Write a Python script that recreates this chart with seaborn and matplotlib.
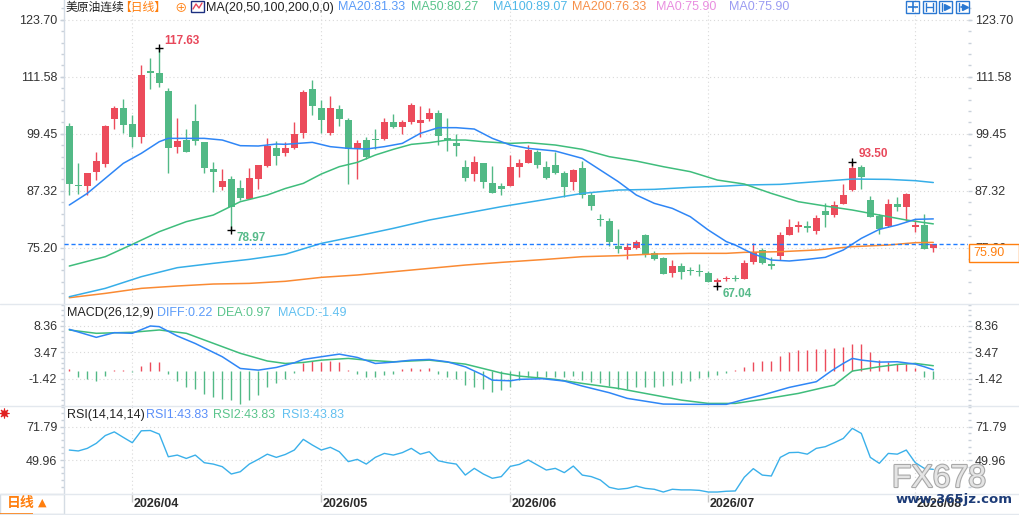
import numpy as np
import matplotlib
matplotlib.use("Agg")
import matplotlib.pyplot as plt
import matplotlib.patheffects as pe
from matplotlib.patches import Rectangle
from matplotlib.lines import Line2D
from matplotlib.ticker import FixedLocator
import seaborn as sns

# ---- daily candles, 97 sessions ----
opens = [101.09, 88.50, 88.40, 91.38, 93.08, 102.51, 104.85, 101.52, 98.82, 112.72,
         112.44, 108.54, 96.70, 98.11, 102.16, 97.69, 91.87, 88.04, 89.81, 87.90,
         85.56, 89.89, 92.58, 96.41, 95.42, 96.48, 99.67, 108.97, 104.92, 99.67,
         104.71, 102.37, 96.48, 98.11, 98.33, 98.33, 101.87, 100.95, 102.01, 101.66,
         102.51, 103.86, 98.54, 97.47, 92.37, 90.95, 93.15, 88.96, 88.33, 88.40,
         92.44, 93.29, 95.56, 92.37, 92.79, 91.02, 89.25, 92.15, 86.41, 81.30,
         80.88, 75.56, 74.71, 75.20, 77.83, 74.07, 73.00, 69.81, 71.23, 70.45,
         70.20, 69.74, 67.97, 68.54, 68.68, 68.61, 72.22, 74.71, 71.66, 73.50,
         77.97, 79.67, 79.74, 78.82, 83.01, 82.23, 84.56, 87.47, 92.30, 85.35,
         81.87, 79.81, 84.49, 83.93, 79.67, 80.03, 75.10]
highs = [101.66, 93.29, 91.16, 95.56, 101.30, 105.35, 106.84, 103.43, 114.14, 115.56,
         117.63, 109.11, 102.87, 100.45, 105.84, 97.69, 93.36, 91.87, 90.45, 89.60,
         92.08, 92.79, 98.61, 97.90, 97.62, 101.94, 108.75, 110.88, 106.62, 107.48,
         105.56, 102.79, 98.11, 98.68, 100.45, 102.72, 103.65, 102.37, 105.99, 105.35,
         104.85, 104.50, 102.79, 99.32, 93.86, 94.71, 93.15, 92.58, 89.03, 94.92,
         94.00, 97.05, 95.99, 93.64, 95.63, 91.45, 91.94, 93.57, 87.12, 82.37,
         81.45, 79.17, 76.12, 76.83, 78.04, 74.42, 73.15, 72.58, 71.94, 71.02,
         71.73, 70.17, 68.82, 69.17, 69.32, 72.58, 76.27, 75.06, 73.29, 78.54,
         81.23, 80.81, 80.81, 82.15, 84.64, 85.20, 88.75, 93.50, 92.79, 86.20,
         82.37, 85.49, 85.91, 86.77, 81.09, 82.37, 75.95]
lows = [86.41, 86.62, 86.34, 89.60, 92.30, 100.38, 99.67, 96.70, 97.40, 108.89,
        109.32, 91.16, 95.42, 95.63, 97.05, 91.16, 87.12, 87.47, 78.97, 85.35,
        85.49, 87.76, 92.44, 92.79, 94.71, 96.20, 98.61, 103.43, 99.53, 99.25,
        101.16, 88.82, 89.89, 94.00, 96.20, 98.11, 100.74, 99.39, 101.52, 98.82,
        102.23, 97.05, 95.84, 94.71, 89.46, 89.39, 87.97, 86.91, 86.48, 88.40,
        90.31, 93.29, 92.08, 89.81, 90.81, 85.91, 87.47, 85.84, 83.22, 79.81,
        75.56, 74.14, 72.86, 74.85, 73.22, 72.58, 69.60, 68.96, 68.54, 69.39,
        69.25, 67.97, 67.04, 68.18, 68.04, 68.61, 71.73, 71.73, 70.59, 72.58,
        77.97, 78.47, 78.61, 78.11, 79.67, 81.66, 84.56, 87.26, 87.76, 81.80,
        78.11, 79.67, 83.01, 80.88, 78.61, 74.99, 74.35]
closes = [88.75, 88.40, 91.02, 93.64, 101.09, 104.85, 101.37, 98.82, 111.94, 112.44,
          110.31, 96.48, 97.90, 95.63, 97.97, 92.08, 91.38, 89.39, 83.93, 85.84,
          89.96, 92.79, 96.84, 94.78, 96.41, 99.39, 108.33, 105.42, 102.44, 104.92,
          102.65, 96.13, 97.47, 94.57, 98.18, 101.94, 100.95, 101.94, 105.56, 102.37,
          103.86, 99.03, 98.04, 96.91, 90.10, 93.43, 89.25, 86.91, 87.76, 92.44,
          93.29, 95.99, 92.79, 90.10, 91.16, 88.18, 91.73, 86.41, 84.14, 81.16,
          76.48, 74.99, 75.34, 76.41, 73.86, 72.79, 69.60, 71.23, 70.09, 70.30,
          70.05, 67.97, 68.39, 68.75, 68.54, 71.87, 74.35, 71.87, 71.37, 77.83,
          79.60, 79.96, 79.46, 81.45, 82.23, 84.28, 86.41, 92.23, 90.31, 81.80,
          79.10, 84.49, 83.93, 86.62, 80.03, 74.99, 75.90]

month_labels = ["2026/04", "2026/05", "2026/06", "2026/07", "2026/08"]
month_idx = [8, 29, 50, 72, 95]

# moving averages (session index, value)
ma20_x = [1, 3, 5, 7, 9, 11, 12, 14, 16, 18, 20, 22, 24, 25, 28, 30, 32, 34, 36, 38,
          40, 42, 44, 46, 48, 50, 52, 55, 58, 60, 62, 64, 66, 68, 70, 72, 74, 75, 77,
          79, 81, 83, 85, 87, 89, 91, 93, 95, 97]
ma20_y = [84.28, 86.76, 89.96, 93.15, 95.28, 97.76, 98.47, 98.47, 98.47, 98.11, 96.91,
          96.84, 97.26, 97.20, 97.62, 96.70, 96.34, 96.20, 96.70, 97.40, 99.53, 100.74,
          100.74, 100.45, 98.47, 97.05, 96.34, 95.77, 94.21, 91.73, 89.25, 86.41, 84.64,
          83.57, 81.80, 78.96, 76.50, 75.77, 73.86, 72.58, 72.37, 72.72, 73.15, 74.71,
          77.19, 79.10, 80.03, 81.23, 81.33]
ma50_x = [1, 5, 8, 11, 14, 17, 20, 23, 25, 27, 29, 31, 33, 35, 37, 39, 41, 43, 45, 47,
          50, 52, 55, 58, 61, 64, 67, 70, 73, 76, 79, 82, 85, 88, 91, 94, 97]
ma50_y = [71.30, 73.29, 75.91, 78.61, 80.74, 82.15, 84.99, 86.41, 87.80, 88.89, 90.88,
          92.44, 93.36, 94.92, 96.13, 97.19, 97.55, 98.11, 98.11, 97.76, 97.40, 97.55,
          97.05, 96.13, 94.57, 93.64, 92.44, 91.38, 89.60, 88.75, 86.76, 84.99, 84.07,
          83.22, 82.15, 81.09, 80.27]
ma100_x = [1, 5, 9, 13, 17, 21, 25, 29, 33, 37, 41, 45, 49, 54, 58, 62, 66, 70, 74, 76,
           80, 84, 88, 92, 95, 97]
ma100_y = [64.77, 66.55, 69.03, 70.95, 71.87, 72.72, 73.80, 76.12, 77.69, 79.32, 81.09,
           82.51, 83.93, 85.49, 86.76, 87.47, 87.62, 88.04, 88.33, 88.54, 88.68, 89.25,
           89.81, 89.74, 89.46, 89.07]
ma200_x = [1, 5, 9, 13, 17, 21, 25, 29, 33, 37, 41, 45, 49, 54, 58, 62, 66, 70, 74, 76,
           80, 84, 88, 92, 95, 97]
ma200_y = [64.56, 65.48, 66.55, 67.05, 67.47, 67.61, 68.05, 68.89, 69.39, 70.09, 70.80,
           71.51, 72.08, 72.72, 73.29, 73.50, 73.86, 74.00, 74.00, 74.21, 74.35, 74.71,
           75.42, 75.77, 76.27, 76.33]

# MACD(26,12,9)
macd_hist = [0.37, -1.05, -1.55, -1.80, -0.93, 0.19, 0.19, -0.12, 0.93, 1.67,
             1.67, -0.50, -1.80, -3.04, -3.41, -4.34, -4.77, -5.27, -5.39, -6.08,
             -5.39, -4.46, -3.04, -2.17, -1.43, -0.43, 1.43, 1.80, 1.67, 1.80,
             1.67, 0.19, -0.56, -1.18, -1.18, -0.74, -0.56, 0.31, 0.50, 0.31,
             0.50, -0.56, -1.18, -1.43, -2.60, -3.04, -3.41, -3.91, -3.60, -2.90,
             -1.67, -1.05, -1.05, -1.05, -1.18, -1.18, -0.93, -1.67, -1.98, -2.29,
             -2.79, -3.41, -3.41, -3.04, -3.04, -3.04, -2.79, -2.60, -2.17, -1.80,
             -1.36, -1.05, -0.74, -0.43, 0.10, 0.81, 1.67, 1.86, 1.86, 2.79,
             3.60, 3.91, 3.91, 4.09, 4.15, 4.34, 4.53, 5.08, 5.08, 3.60,
             2.05, 1.74, 1.30, 1.30, 0.50, -1.05, -1.49]
diff_x = [1, 4, 6, 8, 10, 11, 13, 15, 18, 20, 22, 24, 26, 27, 29, 31, 33, 35, 37, 39,
          41, 43, 45, 47, 48, 50, 51, 53.6, 56, 58, 61, 63, 67, 71, 74, 76, 78, 81, 84,
          85.7, 87, 88, 89, 91, 93, 95, 96, 97]
diff_y = [7.74, 6.25, 7.12, 7.00, 8.36, 8.24, 6.50, 5.10, 2.64, 0.46, 0.15, 0.65, 1.52,
          2.14, 2.64, 3.13, 2.51, 1.39, 1.64, 2.01, 2.14, 1.70, 0.77, -0.78, -1.71,
          -1.83, -1.57, -1.45, -1.88, -2.81, -4.05, -5.10, -6.16, -6.22, -6.22, -5.29,
          -4.49, -3.06, -2.00, 0.04, 1.40, 2.33, 2.02, 1.64, 1.71, 1.27, 0.78, 0.22]
dea_x = [1, 4, 8, 11, 14, 17, 20, 23, 25, 27, 29, 32, 34, 37, 41, 42, 45, 48, 49, 51,
         55, 58, 62, 66, 69, 72, 75, 78, 82, 86, 88, 91, 93, 95, 97]
dea_y = [7.62, 7.00, 7.19, 7.62, 7.00, 5.14, 3.28, 1.85, 1.39, 1.58, 2.01, 2.33, 2.01,
         1.70, 2.01, 1.83, 1.27, 0.03, -0.40, -0.96, -1.57, -2.32, -3.25, -4.49, -5.42,
         -6.04, -6.04, -5.29, -4.18, -2.63, -0.02, 0.78, 1.21, 1.40, 0.97]

# RSI(14,14,14) - the three lines coincide
rsi = [56.5, 55.9, 57.6, 60.9, 66.0, 68.4, 64.8, 61.3, 69.1, 69.3,
       66.9, 52.1, 53.2, 51.0, 53.2, 48.2, 47.3, 45.6, 40.8, 42.3,
       47.3, 50.4, 53.8, 51.7, 53.6, 56.5, 63.5, 59.8, 56.5, 58.3,
       55.4, 48.9, 50.4, 47.3, 51.7, 54.3, 53.2, 54.8, 57.6, 53.8,
       55.4, 49.5, 48.2, 47.3, 40.1, 44.5, 40.8, 38.0, 39.1, 45.8,
       47.1, 50.0, 46.7, 43.4, 44.5, 41.7, 46.0, 40.1, 39.1, 36.9,
       32.1, 30.8, 31.4, 32.9, 31.4, 30.8, 29.0, 30.8, 30.4, 30.4,
       30.1, 29.0, 29.0, 29.5, 29.7, 38.7, 44.3, 40.1, 39.5, 51.7,
       54.8, 55.0, 53.8, 57.6, 58.7, 61.3, 64.1, 70.7, 67.4, 51.7,
       47.8, 54.3, 53.8, 56.5, 48.2, 44.5, 43.83]

main_ticks = [75.20, 87.32, 99.45, 111.58, 123.70]
macd_ticks = [-1.42, 3.47, 8.36]
rsi_ticks = [49.96, 71.79]

RED = "#ec4b5b"
GREEN = "#52b986"
C_MA20 = "#2f86f6"
C_MA50 = "#3fbd7c"
C_MA100 = "#36aee8"
C_MA200 = "#fa8a33"
C_RSI = "#3ab0ea"
ORANGE = "#ff7f0e"
GRID_C = "#d9d9d9"
AXIS_C = "#d3dbe4"
TEXT_C = "#333333"
CJK = ["Liberation Sans", "Noto Sans CJK SC", "DejaVu Sans"]

sns.set_theme(style="white")
plt.rcParams["font.family"] = CJK
plt.rcParams["axes.unicode_minus"] = False

W, H = 1019, 515
fig = plt.figure(figsize=(W / 100, H / 100), dpi=100)
fig.patch.set_facecolor("white")

X0, X1 = 64.3, 968.0
FIRST_X, STEP = 69.3, 9.0
xlim = (1 + (X0 - FIRST_X) / STEP, 1 + (X1 - FIRST_X) / STEP)
idx = np.arange(1, len(closes) + 1)


def fx(px):
    return px / W


def fy(py):
    return 1 - py / H


def panel(y0, y1):
    a = fig.add_axes([fx(X0), fy(y1), (X1 - X0) / W, (y1 - y0) / H])
    a.set_facecolor("none")
    for s in ["top", "right", "bottom"]:
        a.spines[s].set_visible(False)
    a.spines["left"].set_color(AXIS_C)
    a.spines["left"].set_linewidth(1)
    a.set_xticks(month_idx)
    a.tick_params(axis="x", length=0, labelbottom=False)
    a.grid(True, which="major", ls=(0, (1, 2.5)), color=GRID_C, lw=0.8)
    return a


def style_y(a, ticks, lims):
    a.set_ylim(*lims)
    a.set_yticks(ticks)
    a.set_yticklabels([f"{t:.2f}" for t in ticks])
    step = (ticks[1] - ticks[0]) / 5
    a.yaxis.set_minor_locator(FixedLocator(np.arange(ticks[0] - 30 * step, ticks[-1] + 30 * step, step)))
    a.tick_params(axis="y", which="both", left=True, right=True, labelleft=True,
                  labelright=True, direction="out", color="#c9d1da")
    a.tick_params(axis="y", which="major", length=3, width=1, pad=2, labelsize=9, labelcolor=TEXT_C)
    a.tick_params(axis="y", which="minor", length=2, width=1)
    a.set_xlim(*xlim)
    a.set_xlabel("")
    a.set_ylabel("")


# ---------- main price panel ----------
ax = panel(0, 304)
o = np.array(opens)
c = np.array(closes)
hi = np.array(highs)
lo = np.array(lows)
cols = np.where(c >= o, RED, GREEN)
ax.vlines(idx, lo, hi, colors=cols, lw=1, zorder=3)
ax.bar(idx, np.maximum(np.abs(c - o), 0.22), bottom=np.minimum(o, c), width=0.78,
       color=cols, lw=0, zorder=4)

for xs, ys, col in [(ma200_x, ma200_y, C_MA200), (ma100_x, ma100_y, C_MA100),
                    (ma50_x, ma50_y, C_MA50), (ma20_x, ma20_y, C_MA20)]:
    sns.lineplot(x=np.array(xs), y=np.array(ys), ax=ax, color=col, lw=1.1, zorder=5)

ax.axhline(c[-1], color="#1f7cff", lw=1, ls=(0, (3, 2)), zorder=6)
style_y(ax, main_ticks, (63.22, 127.91))

# extreme points
i_max = int(np.argmax(hi))
i_min = int(np.argmin(lo))
i_low1 = int(np.argmin(lo[:40]))
i_high2 = 60 + int(np.argmax(hi[60:]))
for i, v, col, off in [(i_max, hi[i_max], "#e8485b", (5, 7)),
                       (i_low1, lo[i_low1], "#57ba8a", (5, -8)),
                       (i_min, lo[i_min], "#57ba8a", (5, -8)),
                       (i_high2, hi[i_high2], "#e8485b", (6, 8))]:
    ax.plot(idx[i], v, marker="+", color="black", ms=6, mew=1, zorder=7)
    ax.annotate(f"{v:.2f}", xy=(idx[i], v), xytext=off, textcoords="offset pixels",
                ha="left", va="center", fontsize=8.5, fontweight="bold", color=col, zorder=7)

# last price tag on the right
y_disp = ax.transData.transform((xlim[0], c[-1]))[1]
fig.add_artist(Rectangle((fx(969), (y_disp - 18) / H), 49.5 / W, 18 / H, transform=fig.transFigure,
                         fc="white", ec=ORANGE, lw=1, zorder=10))
fig.text(fx(973), (y_disp - 9) / H, f"{c[-1]:.2f}", color=ORANGE, fontsize=9,
         ha="left", va="center", zorder=11)

# ---------- MACD panel ----------
am = panel(304, 406)
hcols = np.where(np.array(macd_hist) >= 0, RED, GREEN)
am.vlines(idx, 0, macd_hist, colors=hcols, lw=1, zorder=3)
sns.lineplot(x=np.array(dea_x), y=np.array(dea_y), ax=am, color=C_MA50, lw=1.1, zorder=4)
sns.lineplot(x=np.array(diff_x), y=np.array(diff_y), ax=am, color=C_MA20, lw=1.1, zorder=4)
style_y(am, macd_ticks, (-6.52, 12.45))

# ---------- RSI panel ----------
ar = panel(406, 493)
sns.lineplot(x=idx, y=np.array(rsi), ax=ar, color=C_RSI, lw=1, zorder=4)
style_y(ar, rsi_ticks, (28.36, 85.35))

# ---------- date bar ----------
ad = fig.add_axes([fx(X0), fy(513), (X1 - X0) / W, 20 / H])
ad.set_xlim(*xlim)
ad.set_ylim(0, 1)
ad.axis("off")
ad.vlines(month_idx, 0.55, 1.0, color="#c8c8c8", lw=1)
for i, lab in zip(month_idx, month_labels):
    ad.text(i + 0.15, 0.45, lab, ha="left", va="center", fontsize=9,
            fontweight="bold", color="#2b2b2b")

# panel separators
for yy in [304, 406, 493.5, 513.5]:
    fig.add_artist(Line2D([0, 1], [fy(yy), fy(yy)], transform=fig.transFigure,
                          color="#e3e8ee", lw=1))


# ---------- headers ----------
def hdr(x, y, s, col, size=9, weight="normal"):
    fig.text(fx(x), fy(y), s, color=col, fontsize=size, ha="left", va="center",
             family=CJK, fontweight=weight)


hdr(66, 7.5, "美原油连续", "#222222", size=8.5)
hdr(119, 7.5, "【日线】", ORANGE, size=8.5)
hdr(174, 8, "⊕", ORANGE)
fig.add_artist(Rectangle((fx(191), fy(12)), 13 / W, 11 / H, transform=fig.transFigure,
                         fill=False, ec="#1c2f80", lw=1))
fig.add_artist(Line2D([fx(193), fx(196), fx(199), fx(202)], [fy(9), fy(4), fy(8), fy(3)],
                      transform=fig.transFigure, color="#e8485b", lw=1))
hdr(206, 7.5, "MA(20,50,100,200,0,0)", "#222222")
hdr(338, 7.5, f"MA20:{ma20_y[-1]:.2f}", "#5b9bf8")
hdr(411, 7.5, f"MA50:{ma50_y[-1]:.2f}", "#5ac48c")
hdr(493, 7.5, f"MA100:{ma100_y[-1]:.2f}", "#4fb8e8")
hdr(572, 7.5, f"MA200:{ma200_y[-1]:.2f}", "#f7904a")
hdr(656, 7.5, f"MA0:{c[-1]:.2f}", "#e98ee0")
hdr(729, 7.5, f"MA0:{c[-1]:.2f}", "#9b9cf2")

hdr(67, 313, "MACD(26,12,9)", "#222222")
hdr(157, 313, f"DIFF:{diff_y[-1]:.2f}", "#5b9bf8")
hdr(217, 313, f"DEA:{dea_y[-1]:.2f}", "#5ac48c")
hdr(278, 313, f"MACD:{macd_hist[-1]:.2f}", "#62c0f0")

hdr(67, 415, "RSI(14,14,14)", "#222222")
hdr(146, 415, f"RSI1:{rsi[-1]:.2f}", "#5b8ff9")
hdr(213, 415, f"RSI2:{rsi[-1]:.2f}", "#5ac48c")
hdr(282, 415, f"RSI3:{rsi[-1]:.2f}", "#62c0f0")

# small red indicator icon left of RSI header
fig.add_artist(Line2D([fx(3.5)], [fy(413)], marker=(8, 2, 0), ms=7, mew=0.8,
                      color="#e02020", transform=fig.transFigure))
fig.add_artist(Line2D([fx(3.5)], [fy(413)], marker="o", ms=3.5, color="#e02020",
                      transform=fig.transFigure))

# toolbar buttons top right
BLUE_BTN = "#2a78d2"
for k, bx in enumerate([906, 922.5, 939, 955.5]):
    fig.add_artist(Rectangle((fx(bx), fy(13)), 13 / W, 12.5 / H, transform=fig.transFigure,
                             fill=False, ec=BLUE_BTN, lw=1))
    if k == 0:
        fig.add_artist(Line2D([fx(bx + 6.5)], [fy(6.7)], marker="+", ms=7, mew=1.2, color=BLUE_BTN,
                              transform=fig.transFigure))
    elif k == 1:
        for xx in (bx + 3, bx + 10):
            fig.add_artist(Line2D([fx(xx), fx(xx)], [fy(3), fy(11)], color=BLUE_BTN, lw=1,
                                  transform=fig.transFigure))
        fig.add_artist(Line2D([fx(bx + 4), fx(bx + 9)], [fy(7), fy(7)], color=BLUE_BTN, lw=1,
                              transform=fig.transFigure))
    elif k == 2:
        fig.add_artist(Line2D([fx(bx + 3), fx(bx + 3)], [fy(3), fy(11)], color=BLUE_BTN, lw=1,
                              transform=fig.transFigure))
        fig.add_artist(Line2D([fx(bx + 7.5)], [fy(7)], marker=">", ms=5, color=BLUE_BTN,
                              transform=fig.transFigure))
    else:
        fig.add_artist(Line2D([fx(bx + 3), fx(bx + 3)], [fy(3), fy(11)], color=BLUE_BTN, lw=1,
                              transform=fig.transFigure))
        fig.add_artist(Line2D([fx(bx + 5), fx(bx + 9)], [fy(7), fy(7)], color=BLUE_BTN, lw=1.2,
                              transform=fig.transFigure))
        fig.add_artist(Line2D([fx(bx + 9.5)], [fy(7)], marker=">", ms=4, color=BLUE_BTN,
                              transform=fig.transFigure))

# bottom-left period selector
fig.add_artist(Rectangle((0, fy(513.5)), 63.5 / W, 20 / H, transform=fig.transFigure,
                         fc="white", ec="#d5dce4", lw=1))
hdr(7, 503.5, "日线", ORANGE, size=10, weight="bold")
fig.text(fx(38), fy(503), "▲", color=ORANGE, fontsize=8, ha="left", va="center",
         family=["DejaVu Sans"])
fig.add_artist(Rectangle((0, 0), 33 / W, 2.5 / H, transform=fig.transFigure, color=ORANGE, lw=0))

# watermark
fig.text(fx(939), fy(479), "FX678", fontsize=23, color="#e4e4e4", ha="center", va="center",
         family=["Liberation Sans"], zorder=12,
         path_effects=[pe.withStroke(linewidth=1.6, foreground="#a8a8a8")])
fig.text(fx(954), fy(499), "www.365jz.com", fontsize=9.5, fontweight="bold", color="#1d3c78",
         ha="center", va="center", family=["DejaVu Sans"], zorder=12)

fig.savefig("out.png", dpi=100)
